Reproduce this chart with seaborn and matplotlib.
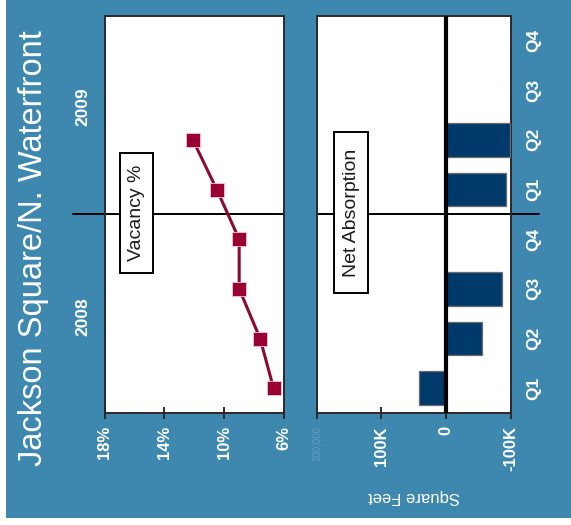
import matplotlib
matplotlib.use("Agg")
import matplotlib.pyplot as plt
from matplotlib.patches import Rectangle
import matplotlib.transforms as mtransforms
import seaborn as sns
import pandas as pd
import numpy as np

# ---- data -------------------------------------------------------------
quarters = ["Q1", "Q2", "Q3", "Q4", "Q1", "Q2", "Q3", "Q4"]
periods = ["2008 Q1", "2008 Q2", "2008 Q3", "2008 Q4",
           "2009 Q1", "2009 Q2", "2009 Q3", "2009 Q4"]
years = ["2008", "2009"]
vacancy_pct = [6.7, 7.6, 9.0, 9.0, 10.5, 12.1]          # reported quarters only
net_absorption = [42000, -56000, -87000, 0, -92000, -99500, 0, 0]
vac_ticks = [18, 14, 10, 6]
vac_tick_labels = ["18%", "14%", "10%", "6%"]
abs_ticks = [200000, 100000, 0, -100000]
abs_tick_labels = ["200,000", "100K", "0", "-100K"]

BLUE = "#3E88B0"
NAVY = "#003A6B"
WINE = "#990033"
FONT = "Liberation Sans"

sns.set_theme(style="white")
plt.rcParams["font.family"] = [FONT, "DejaVu Sans"]

W, H = 571, 525
fig = plt.figure(figsize=(W / 100, H / 100), dpi=100)
fig.patch.set_facecolor("white")
fig.patches.append(Rectangle((6 / W, 7 / H), 1 - 6 / W, 1 - 7 / H,
                             transform=fig.transFigure, facecolor=BLUE,
                             edgecolor="none", zorder=-5))

ax_bottom = (H - 413) / H
ax_height = 397.3 / H
ax_v = fig.add_axes([104.7 / W, ax_bottom, 179.3 / W, ax_height])
ax_a = fig.add_axes([316.7 / W, ax_bottom, 194.0 / W, ax_height])

for ax in (ax_v, ax_a):
    ax.set_facecolor("white")
    for s in ax.spines.values():
        s.set_visible(True)
        s.set_color("#2a2a2a")
        s.set_linewidth(1.4)
    ax.set_ylim(-0.5, 7.5)
    ax.tick_params(axis="x", direction="inout", length=9, width=1.4,
                   color="#2a2a2a", pad=5, bottom=True)

# ---- vacancy panel ----------------------------------------------------
vac_df = pd.DataFrame({"vacancy": vacancy_pct,
                       "pos": np.arange(len(vacancy_pct))})
sns.lineplot(data=vac_df, x="vacancy", y="pos", sort=False, orient="y",
             ax=ax_v, color="#8A0A30", linewidth=2.2, marker="s",
             markersize=9.5, markerfacecolor=WINE,
             markeredgecolor="#f3c6d2", markeredgewidth=0.6, zorder=4)
ax_v.set_xlim(18, 6)
ax_v.set_ylim(-0.5, 7.5)
ax_v.set_xticks(vac_ticks)
ax_v.set_xticklabels(vac_tick_labels, rotation=90, color="white",
                     fontsize=12, fontweight="bold", va="top")
ax_v.set_yticks([])
ax_v.set_xlabel("")
ax_v.set_ylabel("")

# divider between years
ax_v.axhline(3.5, xmin=-0.177, xmax=1, color="black", lw=1.4,
             clip_on=False, zorder=2)
ax_v.add_patch(Rectangle((0.085, 0.352), 0.186, 0.302,
                         transform=ax_v.transAxes, facecolor="white",
                         edgecolor="black", lw=1.4, zorder=5))
ax_v.text(0.178, 0.503, "Vacancy %", transform=ax_v.transAxes,
          rotation=90, ha="center", va="center", fontsize=14,
          color="#1a1a1a", zorder=6)

yr_tr = mtransforms.blended_transform_factory(ax_v.transAxes, ax_v.transData)
for label, ypos in zip(years, [1.43, 5.66]):
    ax_v.text(-0.123, ypos, label, transform=yr_tr, rotation=90,
              ha="center", va="center", fontsize=12.5, fontweight="bold",
              color="white", clip_on=False)

# ---- net absorption panel ---------------------------------------------
abs_df = pd.DataFrame({"period": periods, "sf": net_absorption})
sns.barplot(data=abs_df, x="sf", y="period", orient="h", ax=ax_a,
            color=NAVY, saturation=1, width=0.68, edgecolor="#6b6b6b",
            linewidth=0.9, zorder=3)
ax_a.set_ylim(-0.5, 7.5)
ax_a.set_xlim(200000, -100000)
ax_a.axvline(0, color="black", lw=3, zorder=4)
ax_a.set_xticks(abs_ticks)
ax_a.set_xticklabels(abs_tick_labels, rotation=90, color="white",
                     fontsize=12, fontweight="bold", va="top")
faint = ax_a.get_xticklabels()[0]
faint.set_fontsize(7)
faint.set_fontweight("normal")
faint.set_color("#5E9CC2")
ax_a.set_xlabel("")
ax_a.set_ylabel("")

ax_a.yaxis.tick_right()
ax_a.set_yticks(range(len(quarters)))
ax_a.set_yticklabels(quarters, rotation=90, color="white", fontsize=12.5,
                     fontweight="bold", va="center", ha="left")
ax_a.tick_params(axis="y", length=0, pad=11, right=True, left=False)

ax_a.axhline(3.5, xmin=0, xmax=1.146, color="black", lw=1.4,
             clip_on=False, zorder=2)
ax_a.add_patch(Rectangle((0.0907, 0.301), 0.175, 0.4055,
                         transform=ax_a.transAxes, facecolor="white",
                         edgecolor="black", lw=1.4, zorder=5))
ax_a.text(0.178, 0.504, "Net Absorption", transform=ax_a.transAxes,
          rotation=90, ha="center", va="center", fontsize=14,
          color="#1a1a1a", zorder=6)

ax_a.text(0.5, -0.211, "Square Feet", transform=ax_a.transAxes,
          rotation=180, ha="center", va="center", fontsize=12,
          color="white")

# ---- title ------------------------------------------------------------
fig.text(34 / W, (H - 248) / H, "Jackson Square/N. Waterfront",
         rotation=90, ha="center", va="center", fontsize=23.5,
         color="white")

fig.savefig("out.png", dpi=100, facecolor=fig.get_facecolor())
